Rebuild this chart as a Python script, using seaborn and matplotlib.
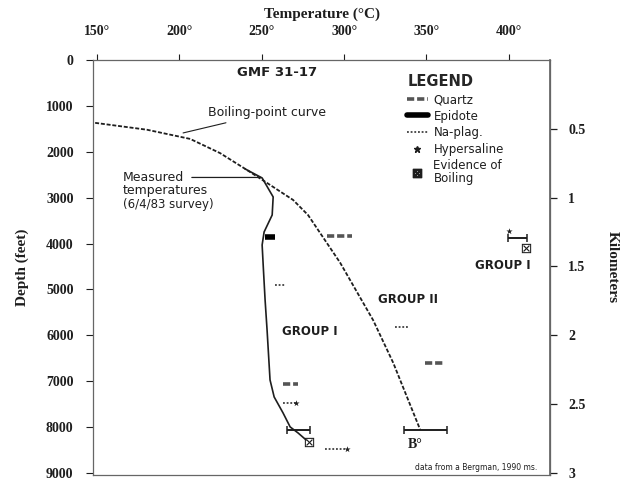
import matplotlib
matplotlib.use("Agg")
import numpy as np
import pandas as pd
import matplotlib.pyplot as plt
import seaborn as sns
from matplotlib.lines import Line2D

# ---- data ----
boil_temp = [148.8, 180.3, 206.5, 224.7, 241.1, 253.2, 269.0, 278.1, 297.6, 317.6, 329.8, 346.2]
boil_depth = [1370, 1520, 1720, 2030, 2400, 2680, 3050, 3380, 4420, 5670, 6600, 8060]

meas_temp = [239.9, 250.2, 256.9, 256.3, 251.4, 250.2, 251.0, 252.0, 253.2, 255.0, 257.5, 262.9, 267.2, 272.0, 276.9]
meas_depth = [2375, 2571, 2985, 3378, 3748, 4031, 4576, 5230, 5884, 6973, 7344, 7692, 7997, 8128, 8281]

quartz_t0 = [289.6, 349.3, 263.0]
quartz_t1 = [304.9, 360.1, 272.0]
quartz_d = [3835, 6603, 7060]

epidote_t0 = [252.0]
epidote_t1 = [258.1]
epidote_d = [3857]

naplag_t0 = [258.1, 331.0, 263.0, 288.5]
naplag_t1 = [264.1, 338.6, 270.5, 300.6]
naplag_d = [4903, 5818, 7474, 8477]

range_t0 = [265.4, 336.4, 399.6]
range_t1 = [279.3, 362.6, 411.2]
range_d = [8063, 8063, 3879]

hyper_t = [271.0, 400.2, 301.8]
hyper_d = [7474, 3726, 8477]

boilev_t = [278.8, 410.6]
boilev_d = [8324, 4097]

temp_ticks = [150, 200, 250, 300, 350, 400]
temp_labels = ["150°", "200°", "250°", "300°", "350°", "400°"]
depth_ticks = [0, 1000, 2000, 3000, 4000, 5000, 6000, 7000, 8000, 9000]
depth_labels = ["0", "1000", "2000", "3000", "4000", "5000", "6000", "7000", "8000", "9000"]
km_ticks = [0.5, 1, 1.5, 2, 2.5, 3]
km_labels = ["0.5", "1", "1.5", "2", "2.5", "3"]

# ---- style ----
sns.set_theme(style="white")
plt.rcParams["font.family"] = ["DejaVu Sans"]
ink = "#1e1e1e"
serif = ["Liberation Serif", "DejaVu Serif"]

fig = plt.figure(figsize=(6.23, 4.83), dpi=100)
ax = fig.add_axes([93 / 623, 1 - 475 / 483, (550 - 93) / 623, (475 - 60) / 483])

boil_df = pd.DataFrame({"T": boil_temp, "D": boil_depth})
meas_df = pd.DataFrame({"T": meas_temp, "D": meas_depth})

sns.lineplot(data=boil_df, x="T", y="D", sort=False, estimator=None, errorbar=None,
             ax=ax, color=ink, lw=1.3, linestyle=(0, (2.2, 1.0)))
sns.lineplot(data=meas_df, x="T", y="D", sort=False, estimator=None, errorbar=None,
             ax=ax, color=ink, lw=1.2)

# mineral ranges
ax.hlines(quartz_d, quartz_t0, quartz_t1, colors="#555555", lw=2.6, linestyles=(0, (2.0, 0.8)))
ax.hlines(epidote_d, epidote_t0, epidote_t1, colors="black", lw=4.0)
ax.hlines(naplag_d, naplag_t0, naplag_t1, colors=ink, lw=1.1, linestyles=(0, (1.2, 1.2)))
r0 = np.array(range_t0)
r1 = np.array(range_t1)
ax.errorbar((r0 + r1) / 2, range_d, xerr=(r1 - r0) / 2, fmt="none",
            ecolor=ink, elinewidth=1.4, capsize=3, capthick=1.1)
sns.scatterplot(x=hyper_t, y=hyper_d, ax=ax, marker="*", s=22, color=ink, linewidth=0)
sns.scatterplot(x=boilev_t, y=boilev_d, ax=ax, marker="$\\boxtimes$", s=45, color=ink, linewidth=0)

# axes
ax.set_xlim(147.5, 425)
ax.set_ylim(9045, 0)
ax.xaxis.tick_top()
ax.xaxis.set_label_position("top")
ax.set_xticks(temp_ticks)
ax.set_xticklabels(temp_labels)
ax.set_yticks(depth_ticks)
ax.set_yticklabels(depth_labels)
for lab in ax.get_xticklabels() + ax.get_yticklabels():
    lab.set_fontfamily(serif)
    lab.set_fontweight("bold")
    lab.set_fontsize(10)
    lab.set_color(ink)
ax.tick_params(axis="x", top=True, bottom=False, direction="out", length=4, width=0.8,
               pad=12, colors=ink)
ax.tick_params(axis="y", left=True, direction="out", length=5, width=0.8, pad=9, colors=ink)
ax.set_xlabel("Temperature (°C)", fontsize=11, fontweight="bold", labelpad=5,
              family=serif, color=ink)
ax.set_ylabel("Depth (feet)", fontsize=11, fontweight="bold", labelpad=12,
              family=serif, color=ink)
for s in ax.spines.values():
    s.set_color("#666666")
    s.set_linewidth(0.9)
    s.set_visible(True)

ax2 = ax.secondary_yaxis("right", functions=(lambda d: d / 3000.0, lambda k: k * 3000.0))
ax2.set_yticks(km_ticks)
ax2.set_yticklabels(km_labels)
ax2.tick_params(direction="out", length=5, width=0.9, pad=8, colors=ink)
for lab in ax2.get_yticklabels():
    lab.set_fontfamily(serif)
    lab.set_fontweight("bold")
    lab.set_fontsize(10)
ax2.set_ylabel("Kilometers", rotation=270, fontsize=11, fontweight="bold", labelpad=24,
               family=serif, color=ink)
ax2.spines["right"].set_color("#666666")

# annotations
ax.text(259.3, 283, "GMF 31-17", ha="center", va="center", fontsize=9.5, fontweight="bold", color=ink)
ax.annotate("Boiling-point curve", xy=(202.2, 1590), xytext=(217.4, 1155),
            fontsize=9, color=ink, va="center", ha="left",
            arrowprops=dict(arrowstyle="-", color=ink, lw=0.8, shrinkA=0, shrinkB=0))
ax.annotate("Measured", xy=(249.5, 2560), xytext=(165.8, 2560),
            fontsize=9, color=ink, va="center", ha="left",
            arrowprops=dict(arrowstyle="-", color=ink, lw=0.9, shrinkA=3, shrinkB=0))
ax.text(165.8, 2840, "temperatures", fontsize=9, color=ink, va="center", ha="left")
ax.text(165.8, 3140, "(6/4/83 survey)", fontsize=8.5, color=ink, va="center", ha="left")
ax.text(338.9, 5230, "GROUP II", fontsize=8.5, fontweight="bold", color=ink, ha="center", va="center")
ax.text(279.4, 5927, "GROUP I", fontsize=8.5, fontweight="bold", color=ink, ha="center", va="center")
ax.text(396.6, 4489, "GROUP I", fontsize=8.5, fontweight="bold", color=ink, ha="center", va="center")
ax.text(343.1, 8390, "B°", fontsize=10, fontweight="bold", color=ink, ha="center", va="center",
        family=serif)
ax.text(417.5, 8880, "data from a Bergman, 1990 ms.", fontsize=5.5, color=ink, ha="right", va="center")

# legend
handles = [
    Line2D([], [], color="#555555", lw=2.6, linestyle=(0, (2.0, 0.8))),
    Line2D([], [], color="black", lw=4.0),
    Line2D([], [], color=ink, lw=1.1, linestyle=(0, (1.2, 1.2))),
    Line2D([], [], color=ink, lw=0, marker="*", markersize=4.5),
    Line2D([], [], color=ink, lw=0, marker="$\\boxtimes$", markersize=6),
]
labels = ["Quartz", "Epidote", "Na-plag.", "Hypersaline", "Evidence of\nBoiling"]
leg = ax.legend(handles, labels, title="LEGEND", loc="upper left",
                bbox_to_anchor=(0.67, 0.985), frameon=False, fontsize=8.5,
                handlelength=1.7, handletextpad=0.5, labelspacing=0.3,
                borderpad=0.2, alignment="left")
leg.get_title().set_fontsize(10.5)
leg.get_title().set_fontweight("bold")
for t in leg.get_texts():
    t.set_color(ink)
    t.set_linespacing(0.95)

fig.savefig("out.png", dpi=100)
